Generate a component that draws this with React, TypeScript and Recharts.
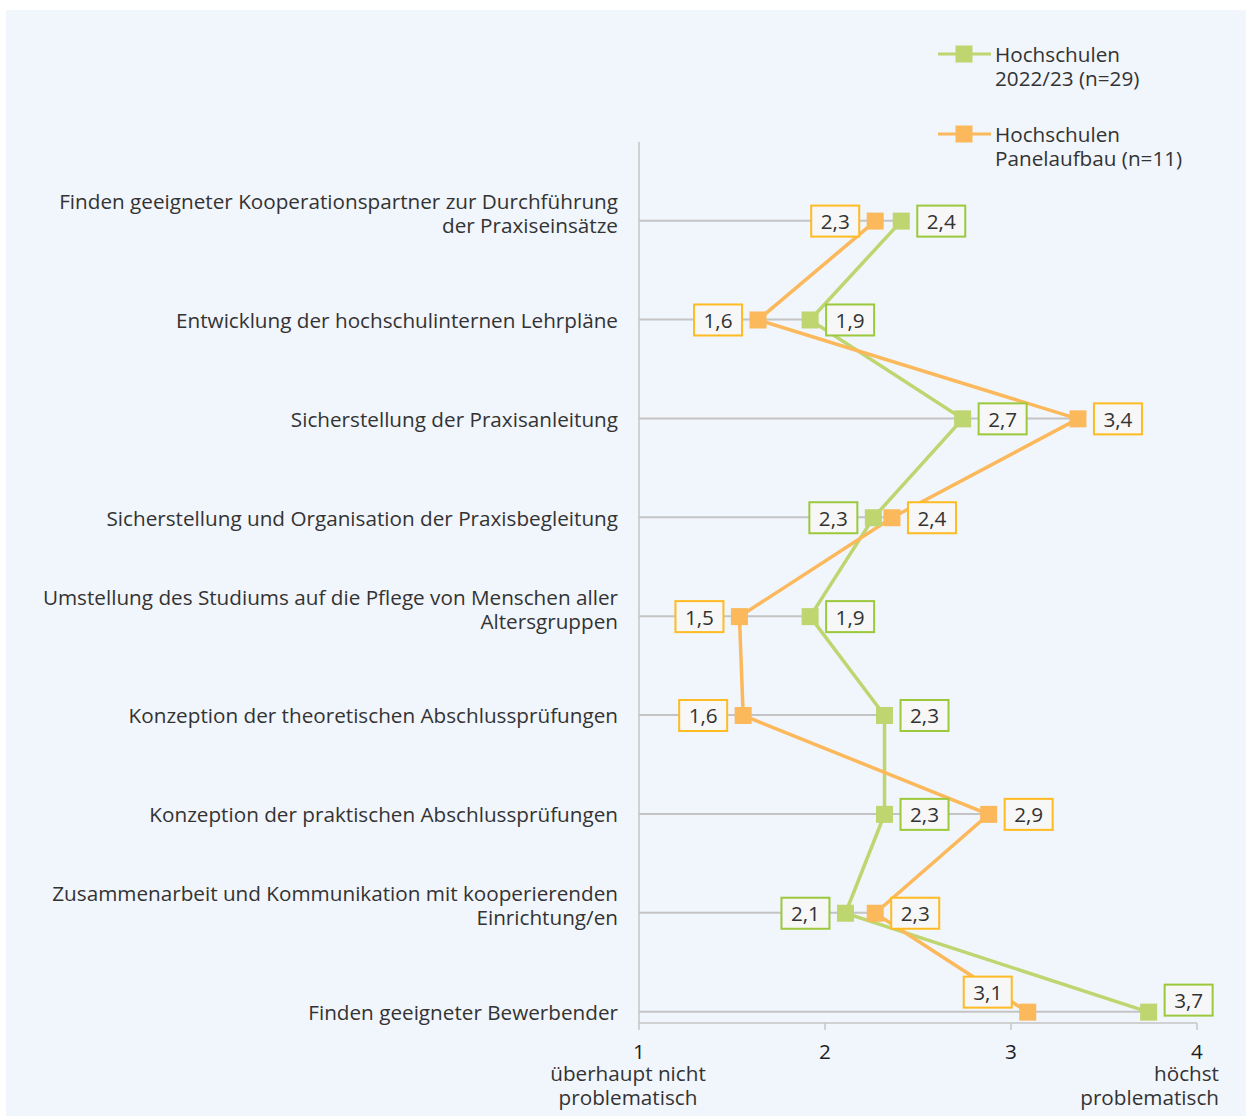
import React from "react";
import { ComposedChart, Line, Bar, XAxis, YAxis, Legend, LabelList } from "recharts";

const categories: string[] = [
  "Finden geeigneter Kooperationspartner zur Durchführung\nder Praxiseinsätze",
  "Entwicklung der hochschulinternen Lehrpläne",
  "Sicherstellung der Praxisanleitung",
  "Sicherstellung und Organisation der Praxisbegleitung",
  "Umstellung des Studiums auf die Pflege von Menschen aller\nAltersgruppen",
  "Konzeption der theoretischen Abschlussprüfungen",
  "Konzeption der praktischen Abschlussprüfungen",
  "Zusammenarbeit und Kommunikation mit kooperierenden\nEinrichtung/en",
  "Finden geeigneter Bewerbender",
];

const green2022: number[] = [2.41, 1.92, 2.74, 2.26, 1.92, 2.32, 2.32, 2.11, 3.74];
const orangePanel: number[] = [2.27, 1.64, 3.36, 2.36, 1.54, 1.56, 2.88, 2.27, 3.09];

const seriesNames = ["Hochschulen\n2022/23 (n=29)", "Hochschulen\nPanelaufbau (n=11)"];

const xTicks: number[] = [1, 2, 3, 4];
const xTickNotes: Record<number, string[]> = {
  1: ["überhaupt nicht", "problematisch"],
  4: ["höchst", "problematisch"],
};

// label placement (style, not data)
const greenPlacement = ["right", "right", "right", "left", "right", "right", "right", "left", "upRight"];
const orangePlacement = ["left", "left", "right", "right", "left", "left", "right", "right", "upLeft"];

const GREEN = "#bdd66f";
const GREEN_BORDER = "#9cc93b";
const ORANGE = "#fbb95c";
const ORANGE_BORDER = "#ffbb22";
const GRID = "#c4c4c4";
const TEXT = "#333333";
const FS = 20.7;

const rows = categories.map((name, i) => ({
  idx: i,
  name,
  green: green2022[i],
  orange: orangePanel[i],
  maxVal: Math.max(green2022[i], orangePanel[i]),
}));

const fmt = (v: number) => v.toFixed(1).replace(".", ",");

const offsets: Record<string, [number, number]> = {
  right: [40, 0],
  left: [-40, 0],
  upRight: [40, -12],
  upLeft: [-40, -20],
};

const makeBoxLabel = (placement: string[], border: string) => (props: any) => {
  const { x, y, value, index } = props;
  if (x == null || y == null || value == null) return null;
  const [dx, dy] = offsets[placement[index]] || [40, 0];
  const cx = x + dx;
  const cy = y + dy;
  const w = 48;
  const h = 31;
  return (
    <g key={`lb-${index}`}>
      <rect x={cx - w / 2} y={cy - h / 2} width={w} height={h} fill="#f7f7f7" stroke={border} strokeWidth={2} />
      <text x={cx} y={cy} textAnchor="middle" dominantBaseline="central" fontSize={FS} fill={TEXT}>
        {fmt(Number(value))}
      </text>
    </g>
  );
};

const makeSquare = (color: string) => (props: any) => {
  const { cx, cy, index } = props;
  if (cx == null || cy == null) return <g key={`sq-${index}`} />;
  return <rect key={`sq-${index}`} x={cx - 8.5} y={cy - 8.5} width={17} height={17} fill={color} />;
};

const YTick = (props: any) => {
  const { x, y, payload } = props;
  const label = categories[payload.value];
  if (label == null) return null;
  const lines = label.split("\n");
  const n = lines.length;
  const shift = (n - 1) * -8;
  return (
    <g>
      {lines.map((ln: string, i: number) => (
        <text
          key={i}
          x={x}
          y={y + shift + (i - (n - 1) / 2) * 24}
          textAnchor="end"
          dominantBaseline="central"
          fontSize={FS}
          fill={TEXT}
        >
          {ln}
        </text>
      ))}
    </g>
  );
};

const XTick = (props: any) => {
  const { x, y, payload } = props;
  const v = payload.value;
  const notes = xTickNotes[v];
  const isLast = v === 4;
  return (
    <g>
      <text x={x} y={y + 19} textAnchor="middle" dominantBaseline="central" fontSize={FS} fill="#1e1e1e">
        {v}
      </text>
      {notes &&
        notes.map((ln, i) => (
          <text
            key={i}
            x={isLast ? x + 22 : x - 11}
            y={y + 41 + i * 24}
            textAnchor={isLast ? "end" : "middle"}
            dominantBaseline="central"
            fontSize={FS}
            fill={TEXT}
          >
            {ln}
          </text>
        ))}
    </g>
  );
};

const LegendContent = () => {
  const colors = [GREEN, ORANGE];
  return (
    <svg width={300} height={150}>
      {seriesNames.map((name, i) => {
        const y0 = 20 + i * 80;
        return (
          <g key={i}>
            <line x1={6} x2={59} y1={y0} y2={y0} stroke={colors[i]} strokeWidth={3} />
            <rect x={32 - 8.5} y={y0 - 8.5} width={17} height={17} fill={colors[i]} />
            {name.split("\n").map((ln, j) => (
              <text key={j} x={63} y={y0 + j * 24} dominantBaseline="central" fontSize={FS} fill={TEXT}>
                {ln}
              </text>
            ))}
          </g>
        );
      })}
    </svg>
  );
};

export default function App() {
  return (
    <div
      style={{
        position: "absolute",
        left: 6,
        top: 10,
        width: 1240,
        height: 1106,
        background: "#f1f5fc",
        fontFamily: "'Open Sans', sans-serif",
      }}
    >
      <ComposedChart
        width={1240}
        height={1106}
        data={rows}
        layout="vertical"
        margin={{ top: 132, right: 49, bottom: 13, left: 0 }}
      >
        <XAxis
          type="number"
          domain={[1, 4]}
          ticks={xTicks}
          tick={<XTick />}
          tickSize={7}
          tickMargin={2}
          height={80}
          axisLine={{ stroke: GRID, strokeWidth: 1.5 }}
          tickLine={{ stroke: GRID, strokeWidth: 1.5 }}
          allowDataOverflow
        />
        <YAxis
          type="number"
          dataKey="idx"
          domain={[-0.8, 8.11]}
          ticks={[0, 1, 2, 3, 4, 5, 6, 7, 8]}
          width={633}
          tickLine={false}
          tickSize={0}
          tickMargin={21}
          interval={0}
          tick={<YTick />}
          axisLine={{ stroke: GRID, strokeWidth: 1.5 }}
          allowDataOverflow
        />
        <Legend
          layout="horizontal"
          verticalAlign="middle"
          align="center"
          content={<LegendContent />}
          wrapperStyle={{ position: "absolute", left: 926, top: 24, width: 300, height: 150 }}
        />
        <Bar dataKey="maxVal" barSize={2} fill={GRID} isAnimationActive={false} legendType="none" />
        <Line
          dataKey="green"
          stroke={GREEN}
          strokeWidth={3.5}
          dot={makeSquare(GREEN)}
          activeDot={false}
          isAnimationActive={false}
        >
          <LabelList dataKey="green" content={makeBoxLabel(greenPlacement, GREEN_BORDER)} />
        </Line>
        <Line
          dataKey="orange"
          stroke={ORANGE}
          strokeWidth={3.5}
          dot={makeSquare(ORANGE)}
          activeDot={false}
          isAnimationActive={false}
        >
          <LabelList dataKey="orange" content={makeBoxLabel(orangePlacement, ORANGE_BORDER)} />
        </Line>
      </ComposedChart>
    </div>
  );
}
